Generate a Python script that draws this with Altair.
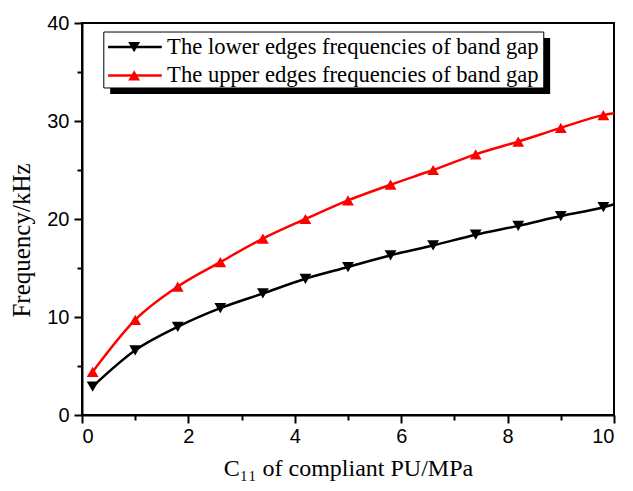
import altair as alt
import pandas as pd

# ---- data ----
x_vals = [0.2, 1.0, 1.8, 2.6, 3.4, 4.2, 5.0, 5.8, 6.6, 7.4, 8.2, 9.0, 9.8]
lower = [2.9, 6.6, 9.0, 10.9, 12.4, 13.9, 15.1, 16.3, 17.3, 18.4, 19.3, 20.3, 21.2]
upper = [4.4, 9.7, 13.1, 15.6, 18.0, 20.0, 21.9, 23.5, 25.0, 26.6, 27.9, 29.3, 30.6]
x_end = 10.0
lower_end = 21.5
upper_end = 30.8

series_names = [
    "The lower edges frequencies of band gap",
    "The upper edges frequencies of band gap",
]
colors = ["#000000", "#ff0000"]
shapes = ["triangle-down", "triangle-up"]

x_major = [0, 2, 4, 6, 8, 10]
x_minor = [1, 3, 5, 7, 9]
y_major = [0, 10, 20, 30, 40]
y_minor = [5, 15, 25, 35]

x_title = "C\u2081\u2081 of compliant PU/MPa"
y_title = "Frequency/kHz"

# ---- tables ----
pts = pd.DataFrame(
    [{"x": x, "y": v, "series": series_names[0]} for x, v in zip(x_vals, lower)]
    + [{"x": x, "y": v, "series": series_names[1]} for x, v in zip(x_vals, upper)]
)
lines = pd.DataFrame(
    [{"x": x, "y": v, "series": series_names[0]} for x, v in zip(x_vals + [x_end], lower + [lower_end])]
    + [{"x": x, "y": v, "series": series_names[1]} for x, v in zip(x_vals + [x_end], upper + [upper_end])]
)

xs = alt.Scale(domain=[0, 10], nice=False, zero=False)
ys = alt.Scale(domain=[0, 40], nice=False, zero=False)
cs = alt.Scale(domain=series_names, range=colors)
ss = alt.Scale(domain=series_names, range=shapes)

SERIF = "Liberation Serif"
SANS = "Liberation Sans"

major_x_axis = alt.Axis(values=x_major, title=x_title, orient="bottom", tickSize=8,
                        labelPadding=3, titlePadding=10, format="d", titleFontSize=24)
major_y_axis = alt.Axis(values=y_major, title=y_title, orient="left", tickSize=8,
                        labelPadding=5, titlePadding=12, format="d", titleFontSize=25,
                        titleY=217)
minor_x_axis = alt.Axis(values=x_minor, title=None, orient="bottom", tickSize=5,
                        labels=False, domain=False)
minor_y_axis = alt.Axis(values=y_minor, title=None, orient="left", tickSize=5,
                        labels=False, domain=False)

line = alt.Chart(lines).mark_line(strokeWidth=2.5, interpolate="monotone").encode(
    x=alt.X("x:Q", scale=xs, axis=major_x_axis),
    y=alt.Y("y:Q", scale=ys, axis=major_y_axis),
    color=alt.Color("series:N", scale=cs, legend=None),
    detail="series:N",
)

points = alt.Chart(pts).mark_point(filled=True, size=140, opacity=1).encode(
    x=alt.X("x:Q", scale=xs, axis=minor_x_axis),
    y=alt.Y("y:Q", scale=ys, axis=minor_y_axis),
    color=alt.Color("series:N", scale=cs, legend=None),
    shape=alt.Shape("series:N", scale=ss, legend=None),
)

# ---- custom legend (in data units) ----
box = pd.DataFrame([{"x": 0.41, "x2": 8.68, "y": 39.08, "y2": 33.37}])
shadow = pd.DataFrame([{"x": 0.53, "x2": 8.80, "y": 38.47, "y2": 32.76}])
leg_rows = pd.DataFrame([
    {"series": series_names[0], "y": 37.55, "x0": 0.49, "x1": 1.50, "xm": 0.98, "xt": 1.60},
    {"series": series_names[1], "y": 34.65, "x0": 0.49, "x1": 1.50, "xm": 0.98, "xt": 1.60},
])

shadow_l = alt.Chart(shadow).mark_rect(color="black").encode(
    x=alt.X("x:Q", scale=xs, axis=None), x2="x2:Q",
    y=alt.Y("y:Q", scale=ys, axis=None), y2="y2:Q",
)
box_l = alt.Chart(box).mark_rect(fill="white", stroke="black", strokeWidth=1).encode(
    x=alt.X("x:Q", scale=xs, axis=None), x2="x2:Q",
    y=alt.Y("y:Q", scale=ys, axis=None), y2="y2:Q",
)
leg_line = alt.Chart(leg_rows).mark_rule(strokeWidth=2.5).encode(
    x=alt.X("x0:Q", scale=xs, axis=None), x2="x1:Q",
    y=alt.Y("y:Q", scale=ys, axis=None),
    color=alt.Color("series:N", scale=cs, legend=None),
)
leg_pt = alt.Chart(leg_rows).mark_point(filled=True, size=140, opacity=1).encode(
    x=alt.X("xm:Q", scale=xs, axis=None),
    y=alt.Y("y:Q", scale=ys, axis=None),
    color=alt.Color("series:N", scale=cs, legend=None),
    shape=alt.Shape("series:N", scale=ss, legend=None),
)
leg_txt = alt.Chart(leg_rows).mark_text(align="left", baseline="middle", font=SERIF,
                                        fontSize=22.6, color="black").encode(
    x=alt.X("xt:Q", scale=xs, axis=None),
    y=alt.Y("y:Q", scale=ys, axis=None),
    text="series:N",
)

chart = alt.layer(line, points, shadow_l, box_l, leg_line, leg_pt, leg_txt).resolve_axis(
    x="independent", y="independent"
).properties(
    width=532, height=392,
    autosize=alt.AutoSizeParams(type="none"),
    padding={"left": 74, "top": 15, "right": 11, "bottom": 68},
).configure_view(
    stroke="black", strokeWidth=2
).configure_axis(
    grid=False, domainColor="black", domainWidth=2, tickColor="black", tickWidth=2,
    labelFont=SANS, labelFontSize=20, labelColor="black",
    titleFont=SERIF, titleFontWeight="normal", titleColor="black",
)

chart.save("out.html", embed_options={"renderer": "svg", "actions": False})
